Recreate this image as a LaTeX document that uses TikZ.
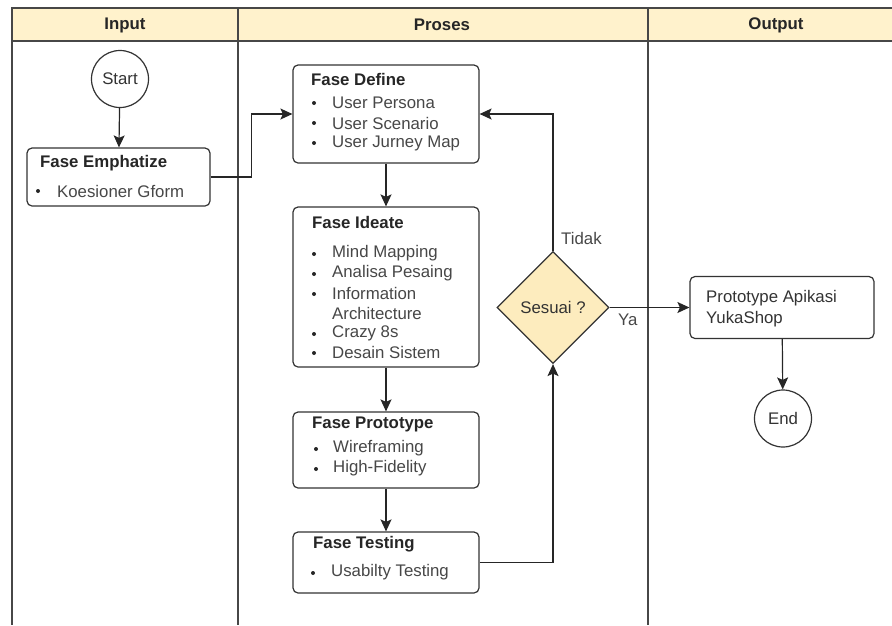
\documentclass[tikz,border=0pt]{standalone}
\usepackage{fontspec}
\setmainfont{Liberation Sans}
\usetikzlibrary{arrows.meta,shapes.geometric}
\newcommand\dfs{\fontsize{16.8}{20}\selectfont}
\definecolor{hdr}{RGB}{255,242,204}
\definecolor{dia}{RGB}{253,236,190}
\begin{document}
\begin{tikzpicture}[x=1pt,y=-1pt,
  lane/.style={draw=black!72,line width=1.4pt},
  box/.style={draw=black!80,line width=1.2pt,rounded corners=5pt,fill=white,inner sep=0},
  flow/.style={draw=black!85,line width=1.2pt,-{Stealth[length=12pt,width=11pt,inset=2.5pt]}},
  ttl/.style={font=\bfseries\dfs,text=black!85,anchor=west,inner sep=0},
  itm/.style={font=\dfs,text=black!72,anchor=west,inner sep=0},
  hlab/.style={font=\bfseries\dfs,text=black!85,inner sep=0},
  circ/.style={circle,draw=black!80,line width=1.2pt,fill=white,minimum size=57pt,inner sep=0,font=\dfs,text=black!80},
  bul/.style={fill=black!85}]
\useasboundingbox (0,0) rectangle (892,625);
% header band and lanes
\fill[hdr] (12,8) rectangle (892,41);
\draw[lane] (892,8) -- (12,8) -- (12,625);
\draw[lane] (12,41) -- (892,41);
\draw[lane] (238,8) -- (238,625);
\draw[lane] (648,8) -- (648,625);
\node[hlab] (hin) at (125,25) {Input};
\node[hlab] (hpr) at (442,25) {Proses};
\node[hlab] (hout) at (776,25) {Output};
% input lane
\node[circ] (start) at (120,79) {Start};
\node[box,minimum width=183pt,minimum height=58pt] (emph) at (118.5,177) {};
\node[ttl] (emphT) at (40,163) {Fase Emphatize};
\fill[bul] (38,191) circle (2pt);
\node[itm] (emph1) at (57,191) {Koesioner Gform};
% proses lane
\node[box,minimum width=186pt,minimum height=98pt] (define) at (386,114) {};
\node[ttl] (defT) at (311,79) {Fase Define};
\fill[bul] (314,103) circle (2pt); \node[itm] (def1) at (332,103) {User Persona};
\fill[bul] (314,123) circle (2pt); \node[itm] (def2) at (332,123) {User Scenario};
\fill[bul] (314,143) circle (2pt); \node[itm] (def3) at (332,143) {User Jurney Map};
\node[box,minimum width=186pt,minimum height=160pt] (ideate) at (386,287) {};
\node[ttl] (ideT) at (312,222) {Fase Ideate};
\fill[bul] (314,254) circle (2pt); \node[itm] (ide1) at (332,253) {Mind Mapping};
\fill[bul] (314,274) circle (2pt); \node[itm] (ide2) at (332,273) {Analisa Pesaing};
\fill[bul] (314,294) circle (2pt); \node[itm] (ide3) at (332,293) {Information};
\node[itm] (ide3b) at (332,313) {Architecture};
\fill[bul] (314,334) circle (2pt); \node[itm] (ide4) at (332,333) {Crazy 8s};
\fill[bul] (314,353) circle (2pt); \node[itm] (ide5) at (332,352) {Desain Sistem};
\node[box,minimum width=186pt,minimum height=76pt] (proto) at (386,450) {};
\node[ttl] (proT) at (312,424) {Fase Prototype};
\fill[bul] (316,449) circle (2pt); \node[itm] (pro1) at (333,448) {Wireframing};
\fill[bul] (316,469) circle (2pt); \node[itm] (pro2) at (333,468) {High-Fidelity};
\node[box,minimum width=186pt,minimum height=61pt] (test) at (386,562.5) {};
\node[ttl] (tesT) at (313,544) {Fase Testing};
\fill[bul] (313,573) circle (2pt); \node[itm] (tes1) at (331,572) {Usabilty Testing};
\node[diamond,aspect=1,draw=black!80,line width=1.2pt,fill=dia,minimum size=112pt,inner sep=0,font=\dfs,text=black!80] (dia) at (553,307.5) {Sesuai ?};
\node[itm] (tidak) at (561,238) {Tidak};
\node[itm] (ya) at (618,320) {Ya};
% output lane
\node[box,minimum width=184pt,minimum height=62pt] (out) at (782,307.5) {};
\node[itm,text=black!80] (out1) at (706,298) {Prototype Apikasi};
\node[itm,text=black!80] (out2) at (706,319) {YukaShop};
\node[circ] (end) at (783,418.5) {End};
% connectors
\draw[flow] (start) -- (emph);
\draw[flow] (emph.east) -- ++(41,0) |- (define.west);
\draw[flow] (define) -- (ideate);
\draw[flow] (ideate) -- (proto);
\draw[flow] (proto) -- (test);
\draw[flow] (test.east) -| (dia.south);
\draw[flow] (dia.north) |- (define.east);
\draw[flow] (dia.east) -- (out.west);
\draw[flow] (out) -- (end);
\end{tikzpicture}
\end{document}
